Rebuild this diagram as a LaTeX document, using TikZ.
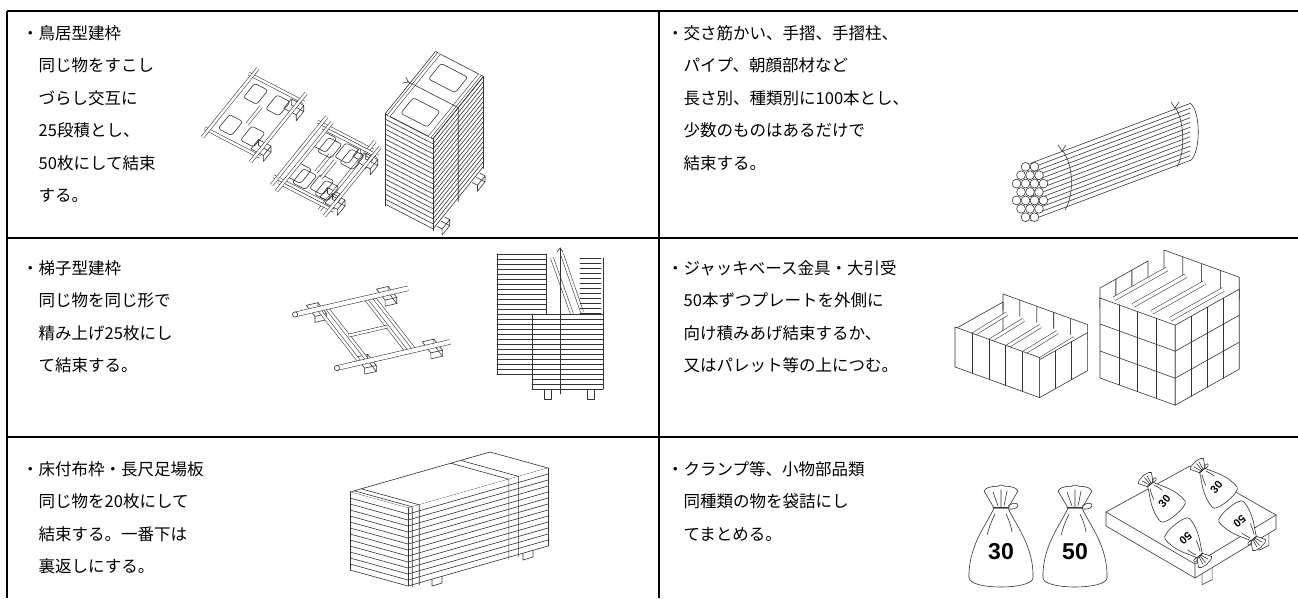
\documentclass[tikz,border=0pt]{standalone}
\usepackage{fontspec}
\setmainfont{Noto Sans CJK JP}
\newfontfamily\jpfont{Noto Sans CJK JP}
\newfontfamily\numfont{Liberation Sans}
\usetikzlibrary{calc}

\tikzset{
  txt/.style={anchor=base west, inner sep=0pt, font=\jpfont\fontsize{16.5}{20}\selectfont},
  rule/.style={line width=1.6pt, black},
  ink/.style={line width=0.6pt, black!80, line join=round, line cap=round},
  tube/.style={line width=0.55pt, draw=black!80, double=white, double distance=2.4pt},
  pole/.style={tube, double distance=4.2pt},
  num/.style={inner sep=0pt, font=\numfont\bfseries\fontsize{23}{23}\selectfont},
  mininum/.style={num/.style={inner sep=0pt, font=\numfont\bfseries\fontsize{11}{11}\selectfont}},
}

% one cell: x, first baseline, pitch, name, first line, other lines
\newcommand{\celltext}[6]{%
  \node[txt] (#4-1) at (#1,#2) {・#5};
  \foreach \tline [count=\k from 2] in {#6}
    \node[txt] (#4-\k) at (#1+16.5,{#2+#3*(\k-1)}) {\tline};
}

% small timber under a frame (in the frame's own axes)
\newcommand{\woodblock}[2]{%
  \draw[ink, fill=white] (#1-6,#2) -- (#1+6,#2) -- ($(#1+6,#2)+(0pt,-6pt)$)
    -- ($(#1+6,#2+14)+(0pt,-6pt)$) -- ($(#1-6,#2+14)+(0pt,-6pt)$)
    -- (#1-6,#2+14) -- cycle;
  \draw[ink] (#1-6,#2+14) -- (#1+6,#2+14) -- (#1+6,#2) (#1+6,#2+14) -- ($(#1+6,#2+14)+(0pt,-6pt)$);
}

\tikzset{
  frameaxes/.style={x={(0.63pt,0.78pt)}, y={(0.89pt,-0.46pt)}},
  pics/torii/.style={code={
    \woodblock{14}{46} \woodblock{66}{46}
    \draw[tube] (5,-4) -- (5,58);
    \draw[tube] (75,-4) -- (75,58);
    \draw[tube] (-4,0) -- (84,0);
    \draw[tube] (-4,54) -- (84,54);
    \draw[ink, rounded corners=2.5pt] (11,7) -- (29,7) -- (29,22) -- (11,22) -- cycle;
    \draw[ink, rounded corners=2.5pt] (11,32) -- (29,32) -- (29,47) -- (11,47) -- cycle;
    \draw[ink, rounded corners=2.5pt] (51,7) -- (69,7) -- (69,22) -- (51,22) -- cycle;
    \draw[ink, rounded corners=2.5pt] (51,32) -- (69,32) -- (69,47) -- (51,47) -- cycle;
    \draw[tube] (29,27) -- (51,27);
  }},
  pics/sack/.style 2 args={code={
    \draw[ink, fill=white] (-7,-30) .. controls (-14,-14) and (-33,8) .. (-32,40)
      .. controls (-31,52) and (31,52) .. (32,40) .. controls (33,8) and (14,-14) .. (7,-30) -- cycle;
    \draw[ink, fill=white] (-7,-30) -- (-17,-47) .. controls (-12,-54) and (-4,-50) .. (0,-53)
      .. controls (5,-50) and (12,-54) .. (17,-47) -- (7,-30) -- cycle;
    \draw[ink] (-3,-32) -- (-8,-46) (3,-32) -- (6,-47) (0,-31) -- (0,-48);
    \draw[ink] (-8,-31) -- (8,-31);
    \draw[ink] (7,-32) .. controls (18,-40) and (22,-28) .. (8,-29);
    \draw[ink] (-6,-24) .. controls (-10,-16) and (-12,-10) .. (-14,-3);
    \draw[ink] (5,-24) .. controls (8,-18) and (10,-12) .. (11,-6);
    \node[num, rotate=#2] (-lbl) at (0,14) {#1};
  }},
}

\begin{document}
\begin{tikzpicture}[x=1pt, y=-1pt]
    \useasboundingbox (0,0) rectangle (1298,598);

    % table rules
    \draw[rule] (7,11) -- (1298,11);
    \draw[rule] (7,11) -- (7,598);
    \draw[rule] (659,11) -- (659,598);
    \draw[rule] (7,238) -- (1298,238);
    \draw[rule] (7,437) -- (1298,437);

    % texts
    \celltext{22}{39}{32.5}{ta}{鳥居型建枠}{同じ物をすこし,づらし交互に,25段積とし、,50枚にして結束,する。}
    \celltext{667}{39}{32.5}{tb}{交さ筋かい、手摺、手摺柱、}{パイプ、朝顔部材など,長さ別、種類別に100本とし、,少数のものはあるだけで,結束する。}
    \celltext{22}{274}{32.5}{tc}{梯子型建枠}{同じ物を同じ形で,精み上げ25枚にし,て結束する。}
    \celltext{667}{274}{32.5}{td}{ジャッキベース金具・大引受}{50本ずつプレートを外側に,向け積みあげ結束するか、,又はパレット等の上につむ。}
    \celltext{22}{475}{32.5}{te}{床付布枠・長尺足場板}{同じ物を20枚にして,結束する。一番下は,裏返しにする。}
    \celltext{667}{475}{32.5}{tf}{クランプ等、小物部品類}{同種類の物を袋詰にし,てまとめる。}

    % torii frames, single and shifted pair
    \begin{scope}[shift={(205,134)}, frameaxes]
        \pic {torii};
    \end{scope}
    \begin{scope}[shift={(274,182)}, frameaxes]
        \pic {torii};
        \pic[shift={(5pt,-6pt)}] {torii};
    \end{scope}

    % torii bundle
    \begin{scope}[shift={(385,114)}, frameaxes]
        \begin{scope}[yshift=-92pt]
            \woodblock{12}{46} \woodblock{68}{46}
        \end{scope}
        \fill[white] (80,0) -- (0,0) -- ($(0,0)+(0pt,-92pt)$) -- ($(0,54)+(0pt,-92pt)$)
            -- ($(80,54)+(0pt,-92pt)$) -- (80,54) -- cycle;
        \foreach \h in {0,5,...,90}
            \draw[ink, yshift=-\h pt] (0,0) -- (0,54) -- (80,54);
        \draw[ink] (0,0) -- ++(0pt,-92pt) (0,54) -- ++(0pt,-92pt) (80,54) -- ++(0pt,-92pt);
        \draw[ink] (0,0) -- (80,0) -- (80,54) -- (0,54) -- cycle;
        \draw[tube] (0,4) -- (80,4);
        \draw[tube] (0,50) -- (80,50);
        \draw[ink, rounded corners=2.5pt] (8,12) -- (28,12) -- (28,42) -- (8,42) -- cycle;
        \draw[ink, rounded corners=2.5pt] (52,12) -- (72,12) -- (72,42) -- (52,42) -- cycle;
        \draw[ink] (40,-3) -- (40,54) -- ++(0pt,-94pt);
        \draw[ink] (36,-6) -- (40,-2) -- (43,-7);
    \end{scope}

    % pipe bundle
    \coordinate (pl) at (1030,192);
    \coordinate (pr) at (1190,132);
    \foreach \t in {-28.5,-23.75,...,28.6}
        \draw[ink] ($(pl)+(0,\t)$) -- ($(pr)+(0,\t)$);
    \draw[ink] ($(pr)+(0,-29)$) .. controls ($(pr)+(11,-21)$) and ($(pr)+(11,21)$) .. ($(pr)+(0,29)$);
    \foreach \dx/\dy in {-4/-22.5,4/-22.5,-8/-15,0/-15,8/-15,-12/-7.5,-4/-7.5,4/-7.5,12/-7.5,
                         -8/0,0/0,8/0,-12/7.5,-4/7.5,4/7.5,12/7.5,-8/15,0/15,8/15,-4/22.5,4/22.5}
        \draw[ink, fill=white] ($(pl)+(1.12*\dx,1.12*\dy)$) circle (4.4);
    \draw[ink] (1062,150) .. controls (1074,164) and (1074,196) .. (1065,210);
    \draw[ink] (1058,145) -- (1062,151) -- (1066,145);
    \draw[ink] (1175,107) .. controls (1185,121) and (1185,153) .. (1177,167);
    \draw[ink] (1171,102) -- (1175,108) -- (1179,102);

    % ladder frame
    \begin{scope}[shift={(297,314)}, x={(0.974pt,0.225pt)}, y={(0.616pt,-0.788pt)}]
        \woodblock{20}{-7} \woodblock{92}{-7}
        \woodblock{28}{61} \woodblock{96}{61}
        \foreach \a in {22,30,70,78}
            \draw[tube] (\a,0) -- (\a,68);
        \draw[tube] (30,36) -- (70,36);
        \draw[pole] (-2,0) -- (114,0);
        \draw[pole] (-2,68) -- (114,68);
        \draw[ink, fill=white] (-2,0) circle (2.6pt) (-2,68) circle (2.6pt);
    \end{scope}

    % ladder bundle
    \foreach \y in {254,259,...,374}
        \draw[ink] (497,\y) -- (546,\y);
    \draw[ink] (497,254) -- (497,374);
    \draw[tube] (552,258) -- (572,314);
    \draw[tube] (562,254) -- (582,312);
    \foreach \y in {258,263,...,313}
        \draw[ink] (580,\y) -- (601,\y);
    \fill[white] (532,314) rectangle (603,389);
    \foreach \y in {314,319,...,389}
        \draw[ink] (532,\y) -- (603,\y);
    \draw[ink] (532,314) -- (532,389) (603,258) -- (603,389) (546,254) -- (546,314);
    \draw[ink] (560,248) -- (560,394);
    \draw[ink] (557,252) -- (560,248) -- (563,252);
    \draw[ink, fill=white] (544,389) rectangle (551,399) (587,389) rectangle (594,399);

    % jack bases, open box
    \begin{scope}[shift={(955,367)}, x={(0.94pt,-0.34pt)}, y={(0.8pt,0.45pt)}, z={(0pt,1pt)}]
        \foreach \a/\b in {0/18,18/36,36/54,54/72,72/90}
            \draw[ink, fill=white] (\a,60,30) -- (\a,60,46) -- (\b,60,46) -- (\b,60,30);
        \draw[ink] (0,0,38) -- (0,60,38) -- (0,60,10);
        \foreach \a in {9,27,45,63,81}
            \draw[tube, double distance=3pt] (\a,8,30) -- (\a,54,32);
        \draw[ink, fill=white] (0,0,0) -- (90,0,0) -- (90,0,40) -- (0,0,40) -- cycle;
        \foreach \a in {18,36,54,72}
            \draw[ink] (\a,0,0) -- (\a,0,40);
        \draw[ink, fill=white] (90,0,0) -- (90,60,0) -- (90,60,38) -- (90,0,38) -- cycle;
        \foreach \b in {20,40}
            \draw[ink] (90,\b,0) -- (90,\b,38);
    \end{scope}

    % jack bases, stacked block
    \begin{scope}[shift={(1100,378)}, x={(0.94pt,-0.34pt)}, y={(0.8pt,0.45pt)}, z={(0pt,1pt)}]
        \foreach \a/\b in {0/20,20/40,40/60,60/80}
            \draw[ink, fill=white] (\a,80,70) -- (\a,80,92) -- (\b,80,92) -- (\b,80,70);
        \foreach \a/\b in {0/20,20/40,40/60}
            \draw[ink, fill=white] (0,\a,70) -- (0,\a,90) -- (0,\b,90) -- (0,\b,70);
        \foreach \a in {10,30,50,70}
            \draw[tube, double distance=3.5pt] (\a,6,80) -- (\a,72,80);
        \draw[ink, fill=white] (0,0,0) -- (80,0,0) -- (80,0,80) -- (0,0,80) -- cycle;
        \foreach \h in {27,54}
            \draw[ink] (0,0,\h) -- (80,0,\h);
        \foreach \a in {20,40,60}
            \draw[ink] (\a,0,0) -- (\a,0,80);
        \draw[ink, fill=white] (80,0,0) -- (80,80,0) -- (80,80,80) -- (80,0,80) -- cycle;
        \foreach \h in {27,54}
            \draw[ink] (80,0,\h) -- (80,80,\h);
        \foreach \b in {20,40,60}
            \draw[ink] (80,\b,0) -- (80,\b,80);
    \end{scope}

    % board stack
    \coordinate (ba) at (350,492);
    \coordinate (bb) at (408,508);
    \coordinate (bc) at (548,468);
    \coordinate (bd) at (490,452);
    \foreach \s in {0.2,0.85}
        \draw[ink, fill=white] ($(bb)!\s!(bc)+(-4,74)$) -- ++(10,-3) -- ++(0,12) -- ++(-10,3) -- cycle;
    \filldraw[ink, fill=white] (ba) -- (bb) -- (bc) -- (bd) -- cycle;
    \fill[white] (ba) -- (bb) -- (bc) -- ($(bc)+(0,78)$) -- ($(bb)+(0,78)$) -- ($(ba)+(0,78)$) -- cycle;
    \foreach \h in {6,12,...,78}
        \draw[ink] ($(ba)+(0,\h)$) -- ($(bb)+(0,\h)$) -- ($(bc)+(0,\h)$);
    \draw[ink] (ba) -- ++(0,78) (bb) -- ++(0,78) (bc) -- ++(0,78);
    \foreach \s in {0.03,0.08,0.72,0.79}
        \draw[ink] ($(ba)!\s!(bd)$) -- ($(bb)!\s!(bc)$) -- ++(0,80);

    % bags
    \pic (bagA) at (1001,538) {sack={30}{0}};
    \pic (bagB) at (1075,538) {sack={50}{0}};

    % pallet with bags
    \coordinate (pa) at (1106,512);
    \coordinate (pb) at (1190,466);
    \coordinate (pc) at (1276,515);
    \coordinate (pd) at (1195,564);
    \foreach \s in {0.15,0.85}
        \draw[ink, fill=white] ($(pd)!\s!(pc)+(-5,10)$) -- ++(10,-5) -- ++(0,18) -- ++(-10,5) -- cycle;
    \draw[ink, fill=white] (pa) -- (pb) -- (pc) -- ($(pc)+(0,14)$) -- ($(pd)+(0,14)$) -- ($(pa)+(0,14)$) -- cycle;
    \draw[ink] (pa) -- (pd) -- (pc) (pd) -- ++(0,14);
    \pic[rotate=40, scale=0.5, mininum] (bagC) at (1160,496) {sack={30}{50}};
    \pic[rotate=40, scale=0.5, mininum] (bagD) at (1212,482) {sack={30}{50}};
    \pic[rotate=220, scale=0.5, mininum] (bagE) at (1190,544) {sack={50}{220}};
    \pic[rotate=220, scale=0.5, mininum] (bagF) at (1244,527) {sack={50}{220}};
\end{tikzpicture}
\end{document}
